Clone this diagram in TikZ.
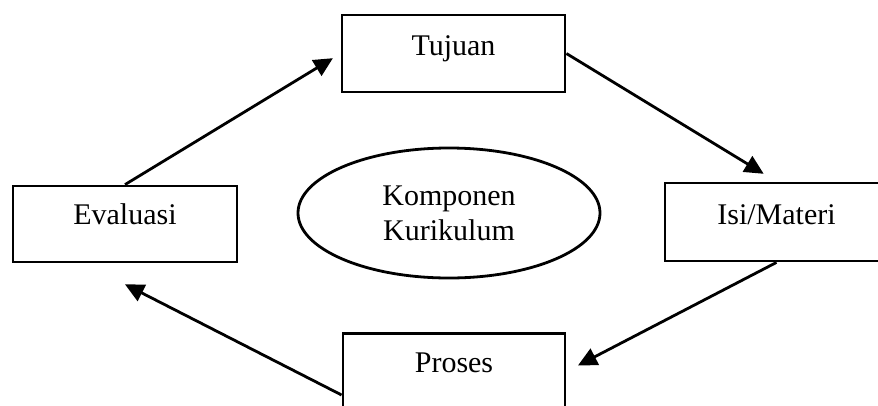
\documentclass[tikz,border=0pt]{standalone}
\usepackage{fontspec}
\setmainfont{Liberation Serif}
\usetikzlibrary{arrows.meta}
\usetikzlibrary{shapes.geometric}

\tikzset{
	kotak/.style={draw=black, line width=2.8pt, inner sep=0pt, minimum width=223pt,
		text height=40pt, text depth=37pt},
	panah/.style={draw=black, line width=2.8pt, -{Triangle[length=19pt,width=18pt]}}
}

\begin{document}
\begin{tikzpicture}[x=1pt,y=-1pt,font=\fontsize{30}{35}\selectfont]
			\useasboundingbox (0,0) rectangle (878,405);
			\node[kotak] (tujuan) at (453.5,53.5){Tujuan};
			\node[kotak, minimum width=224pt, text height=38.5pt, text depth=37.5pt] (evaluasi) at (125,224){Evaluasi};
			\node[kotak, text height=41pt] (isi) at (776.5,222){Isi/Materi};
			\node[kotak, minimum width=222pt, text height=39pt] (proses) at (454,371.5){Proses};

			\node[draw=black, line width=2.8pt, ellipse, minimum width=302pt, minimum height=130pt,
				inner sep=0pt, align=center] (komponen) at (449,213){Komponen\\Kurikulum};

			% siklus komponen
			\draw[panah, shorten >=9pt](evaluasi.north) -- (tujuan.west);
			\draw[panah, shorten >=15pt](tujuan.east) -- (isi.north);
			\draw[panah, shorten >=13pt](isi.south) -- (proses.east);
			\draw[panah, shorten >=46pt]([yshift=-23.5pt]proses.west) -- ([xshift=-41pt]evaluasi.south);
		\end{tikzpicture}
\end{document}
